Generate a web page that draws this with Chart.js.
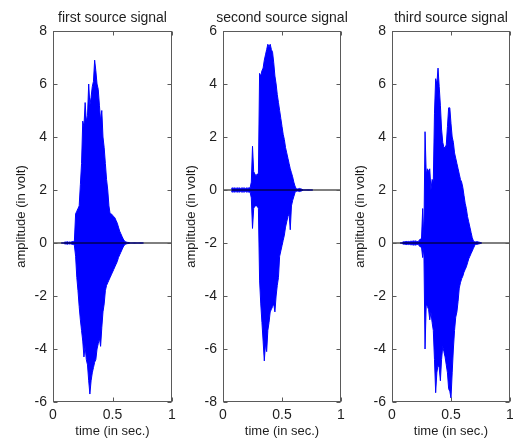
<!DOCTYPE html>
<html><head><meta charset="utf-8">
<script src="https://cdn.jsdelivr.net/npm/chart.js@4.4.1/dist/chart.umd.min.js"></script>
<style>
html,body{margin:0;padding:0;background:#fff;overflow:hidden;}
#wrap{position:relative;width:513px;height:441px;overflow:hidden;background:#fff;}
canvas{position:absolute;top:0;}
</style></head><body>
<div id="wrap">
<canvas id="c1" width="225" height="441" style="left:0px"></canvas>
<canvas id="c2" width="224" height="441" style="left:170px"></canvas>
<canvas id="c3" width="224" height="441" style="left:339px"></canvas>
</div>
<script>
// ---- data (time in seconds, amplitude envelopes in volt) ----
const TIME = [0.07,0.08,0.09,0.10,0.11,0.12,0.13,0.14,0.15,0.16,0.17,0.18,0.19,0.20,0.21,0.22,0.23,0.24,0.25,0.26,
  0.27,0.28,0.29,0.30,0.31,0.32,0.33,0.34,0.35,0.36,0.37,0.38,0.39,0.40,0.41,0.42,0.43,0.44,0.45,0.46,
  0.47,0.48,0.49,0.50,0.51,0.52,0.53,0.54,0.55,0.56,0.57,0.58,0.59,0.60,0.61,0.62,0.63,0.64,0.65,0.66,
  0.67,0.68,0.69,0.70,0.71,0.72,0.73,0.74,0.75,0.76];

const FIRST_UPPER = [0,0,0,0.04,0.03,0.05,0.03,0.04,0.03,0.05,0.05,0.1,1.1,1.2,1.3,1.4,2.2,3.0,4.6,4.4,
  5.3,4.6,4.8,6.0,5.2,5.5,5.9,6.1,6.9,6.5,6.0,5.8,5.2,4.6,5.0,4.0,3.6,3.0,2.4,2.0,
  1.4,1.1,1.1,1.05,1.0,0.95,0.85,0.75,0.6,0.45,0.35,0.25,0.15,0.08,0.05,0.03,0.02,0.02,0,0,
  0,0,0,0,0,0,0,0,0,0];
const FIRST_LOWER = [0,0,0,-0.04,-0.03,-0.05,-0.03,-0.04,-0.03,-0.05,-0.05,-0.1,-0.5,-1.3,-1.8,-2.4,-2.9,-3.3,-3.7,-4.3,
  -3.9,-4.4,-4.6,-5.2,-5.7,-5.2,-4.9,-4.7,-4.5,-4.4,-4.0,-3.8,-3.6,-3.9,-3.2,-2.6,-2.3,-1.8,-1.6,-1.5,
  -1.4,-1.3,-1.2,-1.1,-1.0,-0.9,-0.8,-0.7,-0.55,-0.45,-0.35,-0.25,-0.15,-0.08,-0.05,-0.03,-0.02,-0.02,0,0,
  0,0,0,0,0,0,0,0,0,0];

const SECOND_UPPER = [0.06,0.08,0.07,0.08,0.06,0.08,0.07,0.08,0.06,0.08,0.07,0.08,0.06,0.08,0.07,0.08,0.08,0.3,1.65,0.7,
  0.6,0.55,0.6,0.6,4.4,4.3,4.5,4.6,4.9,5.1,5.3,5.5,5.4,5.5,5.3,5.2,4.8,4.3,4.0,3.6,
  3.3,3.0,2.7,2.4,2.1,1.9,1.6,1.4,1.2,1.0,0.8,0.65,0.5,0.3,0.15,0.05,0.04,0.05,0.06,0.04,
  0.03,0,0,0,0,0,0,0,0,0];
const SECOND_LOWER = [-0.06,-0.08,-0.07,-0.08,-0.06,-0.08,-0.07,-0.08,-0.06,-0.08,-0.07,-0.08,-0.06,-0.08,-0.07,-0.08,-0.08,-0.3,-1.45,-0.7,
  -0.6,-0.6,-0.6,-0.7,-3.4,-4.3,-5.0,-5.7,-6.45,-5.8,-6.1,-5.3,-5.0,-4.6,-4.5,-4.4,-4.3,-4.6,-4.0,-3.6,
  -3.3,-2.5,-2.3,-2.1,-1.9,-1.7,-1.4,-1.2,-1.0,-0.9,-1.5,-0.6,-0.4,-0.25,-0.1,-0.05,-0.04,-0.05,-0.06,-0.04,
  -0.03,0,0,0,0,0,0,0,0,0];

const THIRD_UPPER = [0,0,0.03,0.05,0.04,0.06,0.05,0.06,0.05,0.07,0.06,0.08,0.07,0.08,0.06,0.05,0.1,0.15,0.15,1.3,
  0.2,4.2,2.6,2.8,2.7,2.8,2.0,2.4,2.3,4.9,6.2,6.0,6.6,5.9,5.2,4.3,3.8,3.6,3.6,3.7,
  4.4,5.1,5.1,4.5,4.0,3.8,3.4,3.2,3.0,2.8,2.6,2.4,2.3,2.1,1.8,1.5,1.3,1.0,0.8,0.6,
  0.4,0.2,0.08,0.05,0.04,0.05,0.04,0.03,0.02,0];
const THIRD_LOWER = [0,0,-0.03,-0.05,-0.04,-0.06,-0.05,-0.06,-0.05,-0.07,-0.06,-0.08,-0.07,-0.08,-0.06,-0.05,-0.1,-0.15,-0.15,-0.55,
  -0.2,-4.0,-2.3,-2.4,-2.5,-2.9,-2.6,-3.0,-3.3,-4.4,-5.65,-4.9,-4.6,-4.7,-5.2,-4.4,-3.9,-4.1,-4.3,-4.6,
  -4.9,-5.5,-5.6,-5.85,-4.9,-4.0,-3.3,-2.8,-2.6,-2.2,-1.7,-1.5,-1.35,-1.25,-1.1,-1.0,-0.9,-0.75,-0.6,-0.5,
  -0.4,-0.3,-0.2,-0.1,-0.05,-0.05,-0.04,-0.03,-0.02,0];

const BASELINE_TIME = [0, 1];
const BASELINE_VALUE = [0, 0];

const TITLES = ['first source signal', 'second source signal', 'third source signal'];
const X_LABEL = 'time (in sec.)';
const Y_LABEL = 'amplitude (in volt)';
const X_TICKS = [0, 0.5, 1];
const Y_LIMITS = [[-6, 8], [-8, 6], [-6, 8]];
const Y_STEP = 2;

// ---- styling ----
const FONT = '"Liberation Sans", Arial, Helvetica, sans-serif';
const TEXT = '#1e1e1e';
const AXIS = '#5a5a5a';
const BLUE = '#0000ff';

const boxPlugin = {
  id: 'matlabBox',
  afterDatasetsDraw(chart) {
    const {ctx, chartArea: a, scales: {x, y}} = chart;
    ctx.save();
    ctx.strokeStyle = AXIS;
    ctx.lineWidth = 1;
    const L = Math.round(a.left) + 0.5, R = Math.round(a.right) - 0.5;
    const T = Math.round(a.top) + 0.5, B = Math.round(a.bottom) - 0.5;
    ctx.strokeRect(L, T, R - L, B - T);
    const len = 4;
    ctx.beginPath();
    x.ticks.forEach(t => {
      const px = Math.round(x.getPixelForValue(t.value)) + 0.5;
      ctx.moveTo(px, B); ctx.lineTo(px, B - len);
      ctx.moveTo(px, T); ctx.lineTo(px, T + len);
    });
    y.ticks.forEach(t => {
      const py = Math.round(y.getPixelForValue(t.value)) + 0.5;
      ctx.moveTo(L, py); ctx.lineTo(L + len, py);
      ctx.moveTo(R, py); ctx.lineTo(R - len, py);
    });
    ctx.stroke();
    ctx.restore();
  }
};

function makeChart(id, title, upper, lower, ylim) {
  const pts = arr => TIME.map((t, i) => ({x: t, y: arr[i]}));
  new Chart(document.getElementById(id), {
    type: 'line',
    data: {
      datasets: [
        {data: BASELINE_TIME.map((t, i) => ({x: t, y: BASELINE_VALUE[i]})), borderColor: '#000', borderWidth: 1, pointRadius: 0, fill: false, order: 0},
        {data: pts(upper), borderColor: BLUE, borderWidth: 1, pointRadius: 0, fill: false, order: 1},
        {data: pts(lower), borderColor: BLUE, borderWidth: 1, pointRadius: 0, fill: '-1', backgroundColor: BLUE, order: 2}
      ]
    },
    options: {
      responsive: false,
      animation: false,
      devicePixelRatio: 1,
      layout: {padding: 0},
      elements: {line: {tension: 0}},
      plugins: {
        legend: {display: false},
        tooltip: {enabled: false},
        title: {display: true, fullSize: true, text: title, color: TEXT, font: {family: FONT, size: 14, weight: 'normal'}, padding: {top: 10, bottom: 4.2}}
      },
      scales: {
        x: {
          type: 'linear', min: 0, max: 1,
          afterBuildTicks: s => { s.ticks = X_TICKS.map(v => ({value: v})); },
          afterFit: s => { s.height = 39; },
          grid: {display: false, drawTicks: false},
          border: {display: false},
          ticks: {color: TEXT, font: {family: FONT, size: 14}, padding: 5, maxRotation: 0, autoSkip: false, callback: v => String(v)},
          title: {display: true, text: X_LABEL, color: TEXT, font: {family: FONT, size: 13}, padding: {top: 0, bottom: 2}}
        },
        y: {
          type: 'linear', min: ylim[0], max: ylim[1],
          ticks: {stepSize: Y_STEP, color: TEXT, font: {family: FONT, size: 14}, padding: 6, callback: v => String(v)},
          afterFit: s => { s.width = 53; },
          grid: {display: false, drawTicks: false},
          border: {display: false},
          title: {display: true, text: Y_LABEL, color: TEXT, font: {family: FONT, size: 13}, padding: {top: 14, bottom: 0}}
        },
        // empty right-hand spacer so the title centres over the axes box
        spacer: {
          type: 'linear', position: 'right', display: true, min: 0, max: 1,
          afterFit: s => { s.width = 53; },
          grid: {display: false, drawTicks: false},
          border: {display: false},
          ticks: {display: false}
        }
      }
    },
    plugins: [boxPlugin]
  });
}

makeChart('c1', TITLES[0], FIRST_UPPER, FIRST_LOWER, Y_LIMITS[0]);
makeChart('c2', TITLES[1], SECOND_UPPER, SECOND_LOWER, Y_LIMITS[1]);
makeChart('c3', TITLES[2], THIRD_UPPER, THIRD_LOWER, Y_LIMITS[2]);
</script>
</body></html>
